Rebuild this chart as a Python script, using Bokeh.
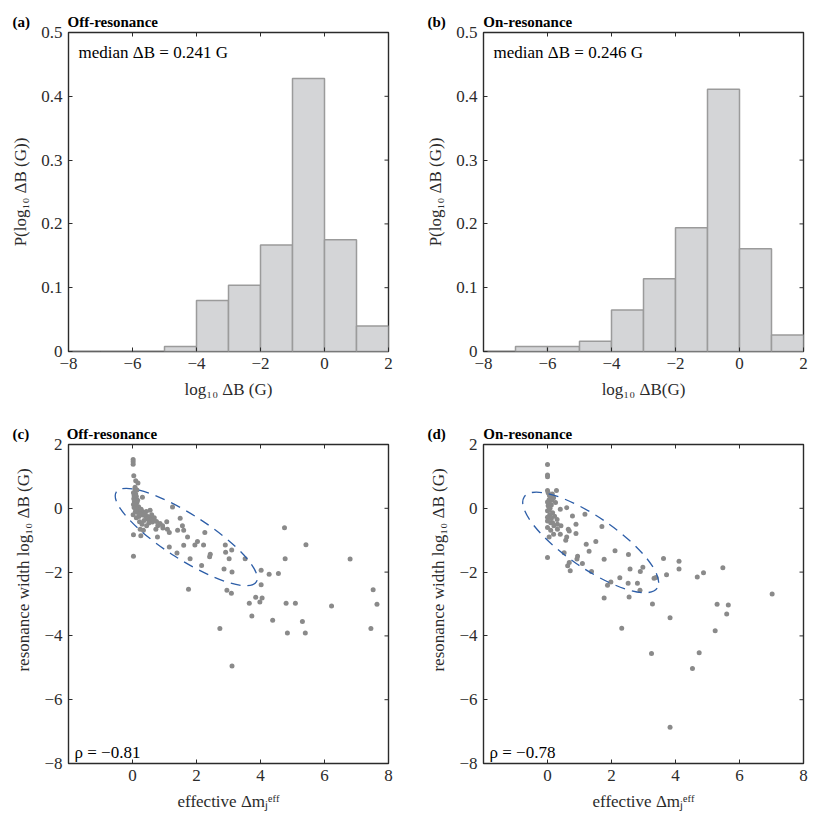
import math
from bokeh.plotting import figure
from bokeh.models import Label, FixedTicker, Range1d, CustomJSTickFormatter, Title
from bokeh.layouts import gridplot
from bokeh.embed import file_html
from bokeh.resources import INLINE

# ---------------- data ----------------
bin_edges = [-8, -7, -6, -5, -4, -3, -2, -1, 0, 1, 2]
hist_off = [0.0, 0.0, 0.0, 0.008, 0.080, 0.104, 0.167, 0.428, 0.175, 0.040]
hist_on = [0.0, 0.008, 0.008, 0.016, 0.065, 0.114, 0.194, 0.411, 0.161, 0.026]

hist_xticks = [-8, -6, -4, -2, 0, 2]
hist_yticks = [0, 0.1, 0.2, 0.3, 0.4, 0.5]
sc_xticks = [0, 2, 4, 6, 8]
sc_yticks = [-8, -6, -4, -2, 0, 2]

off_x = [0.02, 0.02, 0.02, 0.04, 0.10, 0.17, 0.08, 0.14, 0.03, 0.10,
         0.05, 0.12, 0.31, 0.04, 0.10, 0.06, 0.14, 0.03, 0.10, 0.19,
         0.05, 0.13, 0.21, 0.29, 0.09, 0.16, 0.25, 0.35, 0.43, 0.55,
         0.32, 0.40, 0.48, 0.58, 0.20, 0.45, 0.55, 0.68, 0.75, 0.62,
         0.22, 0.51, 0.79, 0.94, 0.73, 1.07, 1.25, 1.49, 1.56, 1.41,
         1.60, 1.15, 1.09, 0.24, 0.34, 0.03, 0.26, 0.78, 1.72, 2.03,
         2.26, 1.95, 2.22, 1.60, 1.15, 1.39, 0.03, 1.80, 2.43, 2.41,
         2.16, 2.90, 3.10, 2.91, 3.02, 3.52, 2.86, 3.11, 4.02, 4.27,
         4.56, 4.75, 5.42, 4.77, 6.80, 1.75, 2.95, 3.09, 4.02, 3.85,
         4.05, 3.98, 3.65, 3.73, 4.80, 5.09, 6.22, 4.38, 5.31, 4.84,
         5.40, 2.73, 7.52, 7.64, 7.45, 3.11,
         0.07, 0.16, 0.27, 0.38, 0.60, 0.66, 0.36, 0.86, 0.12, 0.02,
         0.44, 0.95, 0.30, 0.08]
off_y = [1.53, 1.46, 1.38, 1.02, 0.86, 0.79, 0.60, 0.57, 0.49, 0.45,
         0.39, 0.37, 0.35, 0.30, 0.27, 0.21, 0.18, 0.12, 0.09, 0.05,
         0.02, -0.02, -0.06, -0.09, -0.10, -0.13, -0.16, -0.12, -0.10, -0.06,
         -0.21, -0.23, -0.26, -0.29, -0.26, -0.33, -0.36, -0.30, -0.41, -0.43,
         -0.42, -0.46, -0.55, -0.55, -0.66, -0.42, 0.04, -0.31, -0.55, -0.69,
         -0.69, -0.76, -0.66, -0.66, -0.69, -0.83, -0.86, -0.90, -0.90, -1.04,
         -0.76, -1.15, -1.15, -1.16, -1.21, -1.40, -1.50, -1.58, -1.44, -1.52,
         -1.79, -1.15, -1.31, -1.38, -1.58, -1.58, -1.90, -2.00, -1.94, -2.07,
         -2.04, -0.61, -1.14, -1.58, -1.59, -2.54, -2.57, -2.66, -2.40, -2.79,
         -2.81, -2.94, -2.98, -3.38, -2.98, -2.98, -3.06, -3.51, -3.55, -3.91,
         -3.91, -3.77, -2.55, -3.01, -3.77, -4.94,
         0.15, 0.25, -0.03, -0.18, -0.20, -0.38, -0.38, -0.48, -0.30, -0.20,
         -0.55, -0.62, -0.50, 0.66]

on_x = [0.00, 0.00, 0.00, 0.00, 0.28, 0.02, 0.10, 0.19, 0.05, 0.14,
        0.05, 0.25, 0.12, 0.02, 0.40, 0.60, 0.08, 0.00, 0.16, 0.07,
        0.78, 1.17, 0.00, 0.12, 0.00, 0.16, 0.31, 0.42, 0.89, 0.10,
        0.31, 0.65, 0.68, 0.19, 0.40, 0.89, 0.60, 0.57, 1.70, 1.51,
        1.21, 1.30, 0.52, 0.00, 0.94, 0.92, 0.68, 0.63, 0.71, 1.09,
        1.375, 1.77, 2.11, 2.53, 2.58, 2.90, 2.98, 2.26, 1.98, 1.875,
        2.52, 2.81, 2.89, 3.33, 3.39, 3.72, 3.625, 4.11, 4.11, 4.68,
        4.875, 5.48, 7.02, 1.77, 2.55, 3.28, 3.83, 5.30, 5.65, 5.60,
        5.24, 2.32, 3.25, 4.74, 4.53, 3.83,
        0.05, 0.10, 0.00, 0.22, 0.06, 0.15, 0.00, 0.20, 0.05, 0.30]
on_y = [1.375, 1.04, 0.99, 0.56, 0.56, 0.49, 0.36, 0.33, 0.27, 0.25,
        0.18, 0.18, 0.10, 0.08, -0.03, 0.02, 0.00, -0.08, -0.14, -0.20,
        -0.24, -0.19, -0.28, -0.32, -0.40, -0.45, -0.50, -0.55, -0.50, -0.69,
        -0.66, -0.66, -0.71, -0.81, -0.81, -0.79, -0.90, -1.00, -0.57, -1.04,
        -1.13, -1.35, -1.39, -1.54, -1.50, -1.59, -1.70, -1.80, -1.96, -1.73,
        -1.98, -1.60, -1.33, -1.45, -1.90, -1.98, -1.85, -2.18, -2.31, -2.41,
        -2.35, -2.35, -2.57, -2.19, -2.17, -2.08, -1.57, -1.66, -1.90, -2.15,
        -2.02, -1.86, -2.69, -2.81, -2.78, -3.00, -3.43, -3.01, -3.03, -3.31,
        -3.84, -3.76, -4.55, -4.53, -5.02, -6.86,
        -0.05, -0.45, -0.60, -0.25, 0.40, 0.45, 0.20, -0.55, -0.90, -0.35]

# covariance ellipses: center x, center y, full width, full height, angle (deg)
ell_off = [1.68, -0.90, 5.2, 1.4, -32.7]
ell_on = [1.35, -1.07, 5.04, 1.6, -34.5]

medians = ["median \u0394B  = 0.241 G", "median \u0394B  = 0.246 G"]
rhos = ["\u03c1 = \u22120.81", "\u03c1 = \u22120.78"]

# ---------------- styling ----------------
FONT = "Liberation Serif"
DARK = "#2b2b2b"
FMT_CODE = "return String(tick).replace('-', '\u2212');"
GAP = "\u2003\u2003\u2002"
LIFT = "\u2003\u2003\u2003\u2003"


def make_fig(xr, yr, xticks, yticks, bl, br, bt, bb):
    p = figure(frame_width=320, frame_height=319,
               x_range=Range1d(*xr), y_range=Range1d(*yr),
               output_backend="svg", toolbar_location=None,
               min_border_left=bl, min_border_right=br,
               min_border_top=bt, min_border_bottom=bb)
    p.grid.visible = False
    p.outline_line_color = DARK
    p.outline_line_width = 1.4
    p.background_fill_color = "white"
    p.border_fill_color = "white"
    p.xaxis.ticker = FixedTicker(ticks=xticks, minor_ticks=[])
    p.yaxis.ticker = FixedTicker(ticks=yticks, minor_ticks=[])
    for ax in p.axis:
        ax.formatter = CustomJSTickFormatter(code=FMT_CODE)
        ax.axis_line_color = None
        ax.major_tick_in = 4
        ax.major_tick_out = 0
        ax.major_tick_line_color = DARK
        ax.minor_tick_line_color = None
        ax.major_label_text_font = FONT
        ax.major_label_text_font_size = "17px"
        ax.major_label_text_color = DARK
        ax.major_label_standoff = 6
        ax.axis_label_text_font = FONT
        ax.axis_label_text_font_size = "17px"
        ax.axis_label_text_font_style = "normal"
        ax.axis_label_text_color = DARK
        ax.axis_label_standoff = 8
    # inward ticks on the top and right edges of the box
    p.scatter(x=xticks, y=[yr[1]] * len(xticks), marker="dash", size=8,
              angle=math.pi / 2, line_color=DARK, line_width=1)
    p.scatter(x=[xr[1]] * len(yticks), y=yticks, marker="dash", size=8,
              line_color=DARK, line_width=1)
    return p


def add_title(p, tag, title):
    t = Title(text=tag + GAP + title, align="left", offset=-56, standoff=5,
              text_font=FONT, text_font_size="15px", text_font_style="bold",
              text_color="black")
    p.add_layout(t, "above")


def hist_panel(heights, tag, title, median_text, xlabel, bl, br):
    p = make_fig((-8, 2), (0, 0.5), hist_xticks, hist_yticks, bl, br, 32, 64)
    p.quad(left=bin_edges[:-1], right=bin_edges[1:], top=heights, bottom=0,
           fill_color="#d4d5d7", line_color="#9b9b9b", line_width=1.5)
    p.below[0].axis_label = xlabel
    p.left[0].axis_label = "P(log\u2081\u2080 \u0394B (G))"
    add_title(p, tag, title)
    p.add_layout(Label(x=-8, y=0.5, x_offset=10, y_offset=-10, text=median_text,
                       text_font=FONT, text_font_size="17px", text_color="black",
                       text_baseline="top"))
    return p


def scatter_panel(xs, ys, ell, tag, title, rho, bl, br):
    p = make_fig((-2, 8), (-8, 2), sc_xticks, sc_yticks, bl, br, 29, 59)
    p.scatter(xs, ys, size=5, fill_color="#8a8a8a", line_color=None)
    p.ellipse(x=[ell[0]], y=[ell[1]], width=[ell[2]], height=[ell[3]],
              angle=[math.radians(ell[4])], fill_color=None,
              line_color="#2d5ea8", line_width=1.3, line_dash="10 7")
    p.left[0].axis_label = LIFT + "resonance width log\u2081\u2080 \u0394B (G)"
    p.below[0].axis_label = "effective \u0394m\u2c7c\u1d49\u1da0\u1da0"
    add_title(p, tag, title)
    p.add_layout(Label(x=-2, y=-8, x_offset=6, y_offset=11, text=rho,
                       text_font=FONT, text_font_size="17px", text_color="black",
                       text_baseline="alphabetic"))
    return p


pa = hist_panel(hist_off, "(a)", "Off-resonance", medians[0], "log\u2081\u2080 \u0394B (G)", 68, 27)
pb = hist_panel(hist_on, "(b)", "On-resonance", medians[1], "log\u2081\u2080 \u0394B(G)", 68, 19)
pc = scatter_panel(off_x, off_y, ell_off, "(c)", "Off-resonance", rhos[0], 68, 27)
pd = scatter_panel(on_x, on_y, ell_on, "(d)", "On-resonance", rhos[1], 68, 19)

grid = gridplot([[pa, pb], [pc, pd]], toolbar_location=None)

with open("out.html", "w") as f:
    f.write(file_html(grid, INLINE))
